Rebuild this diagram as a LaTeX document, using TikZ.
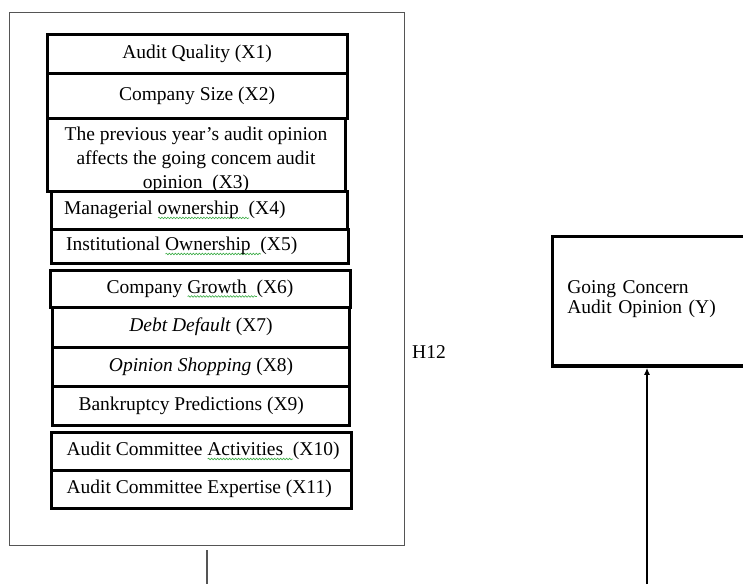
\documentclass[tikz,border=0pt]{standalone}
\usepackage{fontspec}
\setmainfont{Liberation Serif}
\usetikzlibrary{arrows.meta, decorations.pathmorphing}

\definecolor{framegray}{HTML}{555555}
\definecolor{wavegreen}{HTML}{3FAE49}

\newcommand\varfont{\fontsize{19.5}{24}\selectfont}
\newcommand\depfont{\fontsize{19.5}{20.5}\selectfont}
% spell-check squiggle under a word
\newlength\wavelen
\newcommand\gwave[1]{\settowidth\wavelen{#1}\rlap{\raisebox{-4.5pt}{\tikz[x=1pt, y=1pt]%
  \draw[wavegreen, line width=0.6pt, decorate, decoration={snake, amplitude=0.8pt, segment length=3pt}] (0,0) -- (\wavelen,0);}}#1}
% left set text in a box of fixed width
\newcommand\lbox[2]{\makebox[#1][l]{#2}}

\tikzset{
 varbox/.style={draw, line width=3.1pt, inner sep=0pt, anchor=north west, font=\varfont},
 framebox/.style={draw=framegray, line width=1.3pt, inner sep=0pt, anchor=north west},
 linkline/.style={draw=framegray, line width=1.5pt}
}

\begin{document}
\begin{tikzpicture}[x=1pt, y=-1pt]
 \clip (0,0) rectangle (743,584);
 \fill[white] (0,0) rectangle (743,584);

 \node[framebox, minimum width=395.5pt, minimum height=533.5pt] (frame) at (8.6,11.6) {};

 \node[varbox, minimum width=300pt, minimum height=39pt] (x1) at (45.5,32.5) {Audit Quality (X1)};
 \node[varbox, minimum width=300pt, minimum height=45pt] (x2) at (45.5,71.5) {Company Size (X2)};
 \node[varbox, minimum width=298pt, minimum height=73pt] (x3) at (45.5,116.5)
  {\raisebox{-5pt}[\height][\depth]{\begin{tabular}{@{}c@{}}The previous year's audit opinion\\affects the going concem audit\\\gwave{opinion~~}(X3)\end{tabular}}};
 \node[varbox, minimum width=296pt, minimum height=38pt, inner xsep=13pt] (x4) at (49.5,189.5) {\lbox{270pt}{Managerial \gwave{ownership~~}(X4)}};
 \node[varbox, minimum width=297.5pt, minimum height=34pt, inner xsep=15pt] (x5) at (49.5,227.5) {\lbox{267.5pt}{Institutional \gwave{Ownership~~}(X5)}};

 \node[varbox, minimum width=300pt, minimum height=37pt] (x6) at (48.5,268.5) {Company \gwave{Growth~~}(X6)};
 \node[varbox, minimum width=297pt, minimum height=40pt] (x7) at (51,305.5) {\textit{Debt Default} (X7)};
 \node[varbox, minimum width=297pt, minimum height=39pt] (x8) at (51,345.5) {\textit{Opinion Shopping} (X8)};
 \node[varbox, minimum width=297pt, minimum height=39.5pt, inner xsep=26pt] (x9) at (51,384.5) {\lbox{245pt}{Bankruptcy Predictions (X9)}};

 \node[varbox, minimum width=300pt, minimum height=38pt, inner xsep=15pt] (x10) at (50,430.5) {\lbox{270pt}{Audit Committee \gwave{Activities~~}(X10)}};
 \node[varbox, minimum width=300pt, minimum height=38pt, inner xsep=15pt] (x11) at (50,468.5) {\lbox{270pt}{Audit Committee Expertise (X11)}};

 \node[font=\depfont, anchor=west, inner sep=0pt] (h12) at (412,352) {H12};

 \node[varbox, line width=3.8pt, font=\depfont, minimum width=240pt, minimum height=129.5pt, text width=210pt, inner xsep=15pt, align=left] (gc) at (550.5,234.5)
  {\raisebox{2pt}[\height][\depth]{\begin{tabular}{@{}l@{}}Going Concern\\Audit Opinion (Y)\end{tabular}}};

 \coordinate (lbot) at (207,584);
 \coordinate (rbot) at (647,584);
 \draw[linkline] ([yshift=-4pt]frame.south -| lbot) -- (lbot);
 \draw[line width=1.3pt, -{Latex[length=7pt,width=6pt]}] (rbot) -- (rbot |- gc.south);
\end{tikzpicture}
\end{document}
